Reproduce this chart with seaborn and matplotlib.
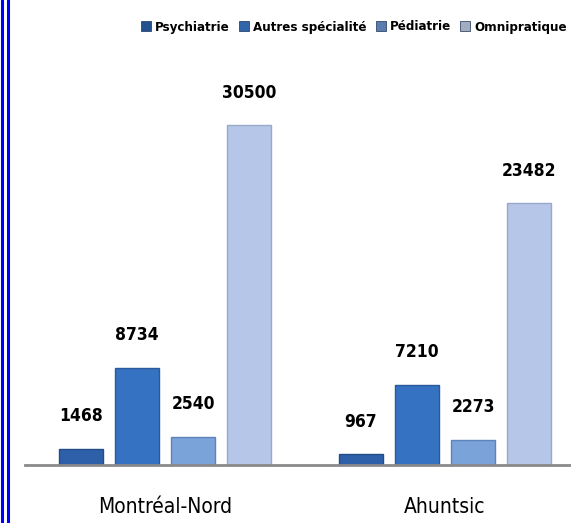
import pandas as pd
import seaborn as sns
import matplotlib.pyplot as plt
from matplotlib.patches import Patch
from matplotlib.lines import Line2D

# data
regions = ["Montréal-Nord", "Ahuntsic"]
specialties = ["Psychiatrie", "Autres spécialité", "Pédiatrie", "Omnipratique"]
montreal_nord = [1468, 8734, 2540, 30500]
ahuntsic = [967, 7210, 2273, 23482]

bar_colors = ["#2d60a8", "#3672c2", "#7aa3da", "#b6c6e8"]
edge_colors = ["#234d88", "#2a5a9c", "#5d84bb", "#97a8c8"]
legend_colors = ["#23508f", "#3064ab", "#5a7db0", "#a3adc0"]

df = pd.DataFrame({
    "region": [r for r in regions for _ in specialties],
    "specialty": specialties * len(regions),
    "count": montreal_nord + ahuntsic,
})

sns.set_style("white")
plt.rcParams['font.family'] = ['DejaVu Sans']
plt.rcParams['font.stretch'] = 'condensed'
plt.rcParams['text.color'] = 'black'
plt.rcParams['xtick.color'] = 'black'

fig = plt.figure(figsize=(5.71, 5.23), dpi=100)
ax = fig.add_axes([25 / 571, 58 / 523, 546 / 571, 401 / 523])

sns.barplot(data=df, x="region", y="count", hue="specialty", order=regions,
            hue_order=specialties, palette=bar_colors, saturation=1,
            width=0.8, gap=0.2, legend=False, ax=ax)

# colour the edges per hue, values on top
for container, ec in zip(ax.containers, edge_colors):
    for bar in container:
        bar.set_edgecolor(ec)
        bar.set_linewidth(1.0)
    ax.bar_label(container, fmt="%d", padding=17, fontsize=12.5, fontweight="bold")

ax.set_xlim(-0.5, 1.45)
ax.set_ylim(0, 36000)
ax.set_xlabel("")
ax.set_ylabel("")
ax.set_yticks([])
ax.tick_params(axis="x", length=0, pad=23, labelsize=15)
for side in ["top", "right", "left"]:
    ax.spines[side].set_visible(False)
ax.spines["bottom"].set_color("#8a8a8a")
ax.spines["bottom"].set_linewidth(2)

handles = [Patch(facecolor=c, edgecolor="#1a2f55", linewidth=0.5) for c in legend_colors]
fig.legend(handles, specialties, loc="center", bbox_to_anchor=(354 / 571, 1 - 27 / 523),
           ncol=4, frameon=False, handlelength=0.75, handleheight=0.75,
           handletextpad=0.3, columnspacing=0.7, borderpad=0.1, borderaxespad=0,
           prop={"weight": "bold", "size": 9.5})

# double blue frame line on the left edge
for x in [2 / 571, 8 / 571]:
    fig.add_artist(Line2D([x, x], [0, 1], color="#0000ff", linewidth=2.2,
                          transform=fig.transFigure))

fig.savefig("out.png", dpi=100)
